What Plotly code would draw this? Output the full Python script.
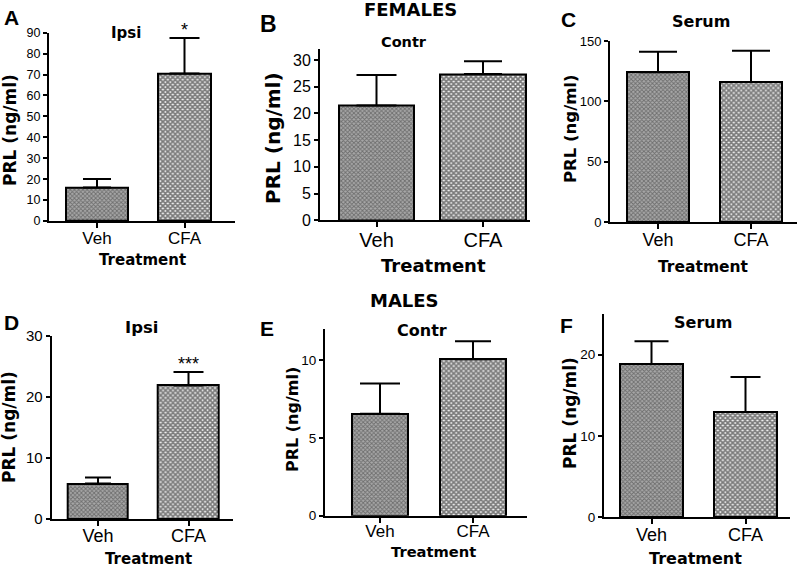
import plotly.graph_objects as go

# ---------------- data ----------------
categories = ["Veh", "CFA"]

fem_ipsi_mean = [16.0, 70.5]
fem_ipsi_sem = [4.1, 17.0]
fem_contr_mean = [21.5, 27.4]
fem_contr_sem = [5.7, 2.4]
fem_serum_mean = [124.0, 116.0]
fem_serum_sem = [17.0, 26.0]

male_ipsi_mean = [5.8, 21.9]
male_ipsi_sem = [1.0, 2.2]
male_contr_mean = [6.55, 10.05]
male_contr_sem = [1.95, 1.15]
male_serum_mean = [18.85, 12.95]
male_serum_sem = [2.8, 4.3]

panel_letters = ["A", "B", "C", "D", "E", "F"]
panel_titles = ["Ipsi", "Contr", "Serum", "Ipsi", "Contr", "Serum"]
group_titles = ["FEMALES", "MALES"]
y_label = "PRL (ng/ml)"
x_label = "Treatment"
y_ranges = [[0, 90], [0, 32], [0, 150], [0, 30], [0, 12], [0, 25]]
y_dticks = [10, 5, 50, 10, 5, 10]
stars = ["*", "", "", "***", "", ""]

means = [fem_ipsi_mean, fem_contr_mean, fem_serum_mean,
         male_ipsi_mean, male_contr_mean, male_serum_mean]
sems = [fem_ipsi_sem, fem_contr_sem, fem_serum_sem,
        male_ipsi_sem, male_contr_sem, male_serum_sem]

# ---------------- layout geometry (pixels) ----------------
W, H = 798, 568
geom = [
    dict(axL=49, axR=235, y0=221, yT=32.7, bars=[(66, 128), (158, 211)], cap=[14, 15],
         letter=(11, 17, 21), title=(126, 33, 15), ylab=(10, 130, 17), xlab=(142, 260, 15),
         ytick=12.5, xtick=17, xstand=-4),
    dict(axL=320, axR=530, y0=220.3, yT=49.4, bars=[(339, 414), (440, 526)], cap=[20, 19],
         letter=(268, 24, 23), title=(404, 42, 14.5), ylab=(273, 138, 20), xlab=(433, 266, 18),
         ytick=16, xtick=20, xstand=-4),
    dict(axL=610, axR=797, y0=222, yT=41, bars=[(627, 689), (720, 782)], cap=[19, 19],
         letter=(568, 20, 21), title=(701, 22, 16), ylab=(570, 129, 16.5), xlab=(703, 267, 15.5),
         ytick=13, xtick=18, xstand=-5),
    dict(axL=51.7, axR=233, y0=519, yT=336, bars=[(68, 128), (158, 219)], cap=[13, 15],
         letter=(11, 322, 21), title=(141, 327, 16.5), ylab=(9, 427, 17), xlab=(148, 559, 15),
         ytick=15, xtick=18, xstand=-6),
    dict(axL=325, axR=527, y0=515.7, yT=328.9, bars=[(352, 408), (440, 506)], cap=[20, 18],
         letter=(267, 328, 21), title=(422, 330, 16), ylab=(292, 420, 16), xlab=(433, 551, 14.7),
         ytick=13.5, xtick=17, xstand=-6),
    dict(axL=604, axR=790, y0=517, yT=314.1, bars=[(620, 683), (714, 777)], cap=[17, 15],
         letter=(566, 325, 21), title=(703, 322, 16), ylab=(570, 413, 17), xlab=(695, 558, 16),
         ytick=13.5, xtick=18, xstand=-5),
]
group_pos = [(410, 9, 18), (404, 300, 18)]

TITLE_FONT = "DejaVu Sans"
TICK_FONT = "Liberation Sans, Arial"

veh_pattern = dict(shape="x", size=3, solidity=0.5, fgcolor="#333333", bgcolor="#a8a8a8")
cfa_pattern = dict(shape="x", size=3.5, solidity=0.75, fgcolor="#000000", bgcolor="#f4f4f4")


def px(x):
    return x / W


def py(y):
    return 1 - y / H


def ann(text, x, y, size, family, **kw):
    d = dict(text=text, x=x, y=y, xref="paper", yref="paper", showarrow=False,
             xanchor="center", yanchor="middle",
             font=dict(family=family, size=size, color="black"))
    d.update(kw)
    return d


fig = go.Figure()
annotations = []
layout_axes = {}

for i, g in enumerate(geom):
    n = i + 1
    xa = "x" if n == 1 else f"x{n}"
    ya = "y" if n == 1 else f"y{n}"
    (l0, r0), (l1, r1) = g["bars"]
    c0, c1 = (l0 + r0) / 2, (l1 + r1) / 2
    unit = c1 - c0
    xr = [(g["axL"] - c0) / unit, (g["axR"] - c0) / unit]
    widths = [(r0 - l0) / unit, (r1 - l1) / unit]
    xpos = [0, 1]

    for k in range(2):
        fig.add_trace(go.Bar(
            x=[xpos[k]], y=[means[i][k]], width=[widths[k]],
            xaxis=xa, yaxis=ya, showlegend=False,
            marker=dict(color="#a8a8a8" if k == 0 else "#f4f4f4",
                        line=dict(color="black", width=2),
                        pattern=veh_pattern if k == 0 else cfa_pattern),
            error_y=dict(type="data", symmetric=False, array=[sems[i][k]],
                         arrayminus=[0], color="black", thickness=2,
                         width=g["cap"][k]),
        ))

    layout_axes["xaxis" if n == 1 else f"xaxis{n}"] = dict(
        domain=[px(g["axL"]), px(g["axR"])], range=xr, anchor=ya, automargin=False,
        tickmode="array", tickvals=xpos, ticktext=categories,
        showline=True, linecolor="black", linewidth=2, ticks="outside",
        ticklen=5, tickwidth=1.5, tickcolor="black", showgrid=False, zeroline=False,
        ticklabelstandoff=g["xstand"],
        tickfont=dict(family=TICK_FONT, size=g["xtick"], color="black"), fixedrange=True)
    layout_axes["yaxis" if n == 1 else f"yaxis{n}"] = dict(
        domain=[py(g["y0"]), py(g["yT"])], range=y_ranges[i], anchor=xa, automargin=False,
        dtick=y_dticks[i], tick0=0,
        showline=True, linecolor="black", linewidth=2, ticks="outside",
        ticklen=4, tickwidth=1.5, tickcolor="black", showgrid=False, zeroline=False,
        tickfont=dict(family=TICK_FONT, size=g["ytick"], color="black"), fixedrange=True)

    lx, ly, ls = g["letter"]
    annotations.append(ann(f"<b>{panel_letters[i]}</b>", px(lx), py(ly), ls, TICK_FONT))
    tx, ty, ts = g["title"]
    annotations.append(ann(f"<b>{panel_titles[i]}</b>", px(tx), py(ty), ts, TITLE_FONT))
    yx, yy, ys = g["ylab"]
    annotations.append(ann(f"<b>{y_label}</b>", px(yx), py(yy), ys, TITLE_FONT, textangle=-90))
    bx, by, bs = g["xlab"]
    annotations.append(ann(f"<b>{x_label}</b>", px(bx), py(by), bs, TITLE_FONT))
    if stars[i]:
        annotations.append(dict(text=stars[i], x=1, y=means[i][1] + sems[i][1],
                                xref=xa, yref=ya, showarrow=False,
                                xanchor="center", yanchor="bottom", yshift=-4,
                                font=dict(family=TICK_FONT, size=18, color="black")))

for j, t in enumerate(group_titles):
    gx, gy, gs = group_pos[j]
    annotations.append(ann(f"<b>{t}</b>", px(gx), py(gy), gs, TITLE_FONT))

fig.update_layout(
    width=W, height=H, margin=dict(l=0, r=0, t=0, b=0, autoexpand=False),
    paper_bgcolor="white", plot_bgcolor="white",
    annotations=annotations, bargap=0, **layout_axes,
)

fig.write_html("out.html", config={"displayModeBar": False},
               post_script="document.body.style.margin='0';document.body.style.overflow='hidden';")
